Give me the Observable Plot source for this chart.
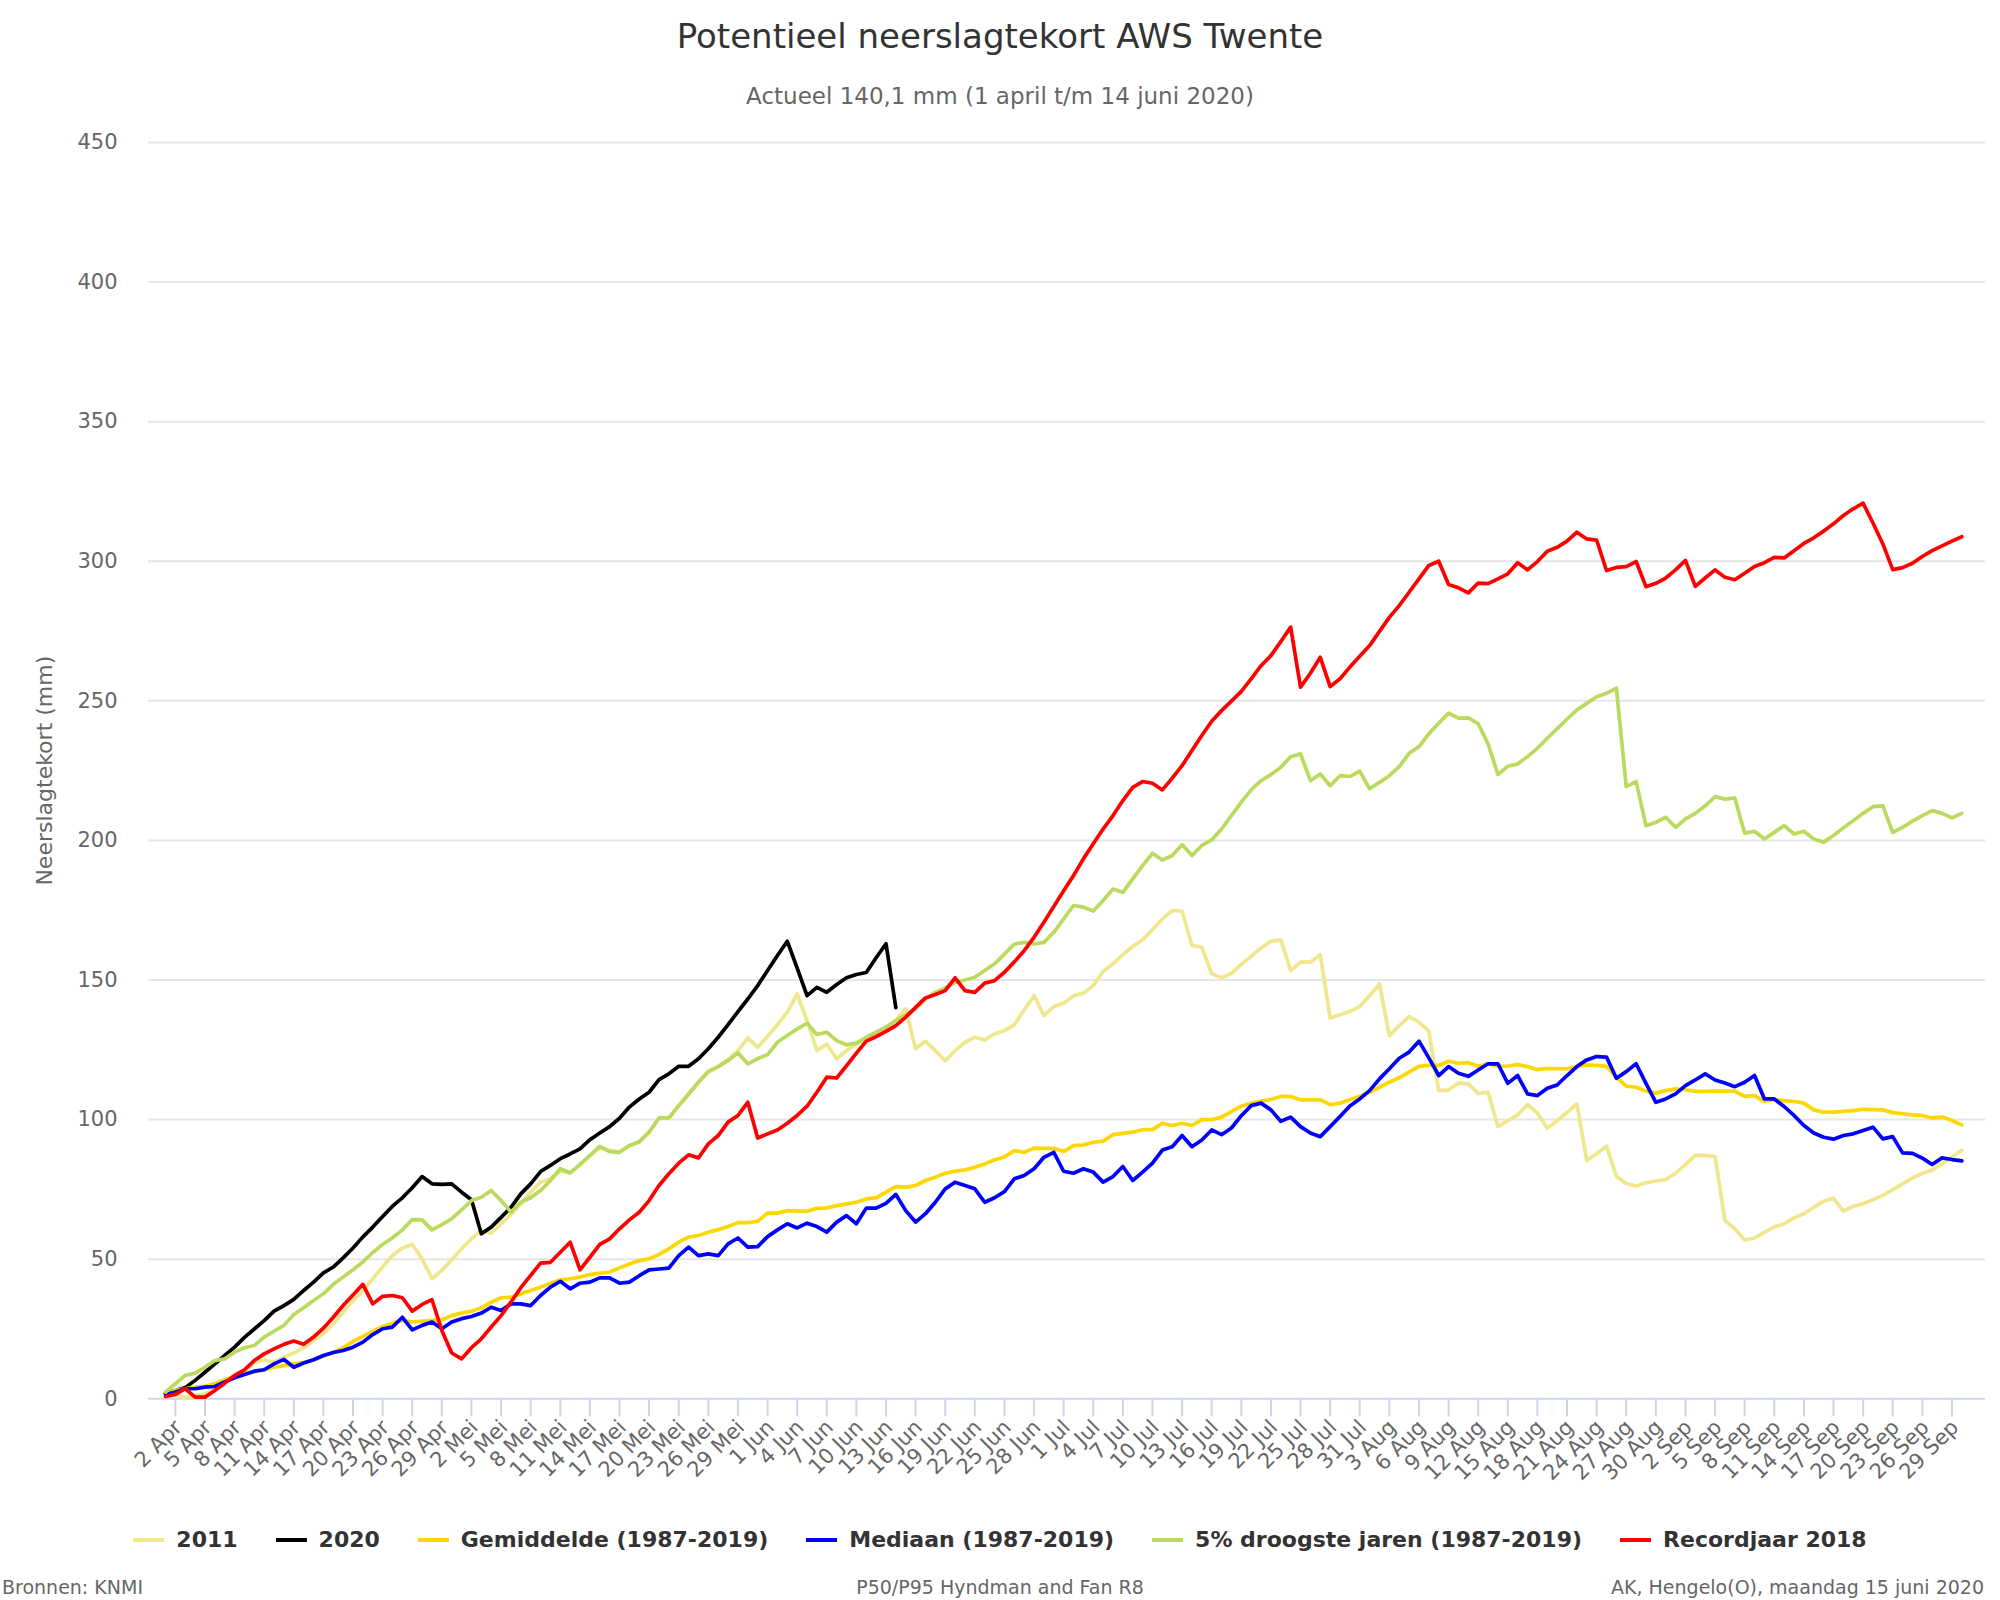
<!DOCTYPE html>
<html>
<head>
<meta charset="utf-8">
<script src="https://cdn.jsdelivr.net/npm/d3@7"></script>
<script src="https://cdn.jsdelivr.net/npm/@observablehq/plot@0.6"></script>
<style>
  body { margin: 0; background: #fff; font-family: "DejaVu Sans", sans-serif; }
  #wrap { position: relative; width: 2000px; height: 1600px; overflow: hidden; background: #fff; }
  #title { position: absolute; top: 14px; left: 0; width: 2000px; text-align: center; font-size: 34px; line-height: 44px; color: #333333; }
  #subtitle { position: absolute; top: 81px; left: 0; width: 2000px; text-align: center; font-size: 23px; line-height: 30px; color: #666666; }
  #chart { position: absolute; top: 120px; left: 0; }
  #legend { position: absolute; top: 1524px; left: 0; width: 2000px; display: flex; justify-content: center; gap: 38px; font-weight: bold; font-size: 22px; line-height: 32px; color: #333333; }
  .item { display: flex; align-items: center; white-space: nowrap; }
  .sym { width: 31px; height: 4px; margin-right: 12px; }
  .foot { position: absolute; top: 1574px; font-size: 19px; line-height: 26px; color: #666666; white-space: nowrap; }
</style>
</head>
<body>
<div id="wrap">
  <div id="title">Potentieel neerslagtekort AWS Twente</div>
  <div id="subtitle">Actueel 140,1 mm (1 april t/m 14 juni 2020)</div>
  <div id="chart"></div>
  <div id="legend"></div>
  <div class="foot" style="left:2px;">Bronnen: KNMI</div>
  <div class="foot" style="left:0;width:2000px;text-align:center;">P50/P95 Hyndman and Fan R8</div>
  <div class="foot" style="right:16px;">AK, Hengelo(O), maandag 15 juni 2020</div>
</div>
<script>
// ---- Data (mm potential precipitation deficit, one value per day starting 1 April) ----
const tickLabels = [
  "2 Apr","5 Apr","8 Apr","11 Apr","14 Apr","17 Apr","20 Apr","23 Apr","26 Apr","29 Apr",
  "2 Mei","5 Mei","8 Mei","11 Mei","14 Mei","17 Mei","20 Mei","23 Mei","26 Mei","29 Mei",
  "1 Jun","4 Jun","7 Jun","10 Jun","13 Jun","16 Jun","19 Jun","22 Jun","25 Jun","28 Jun",
  "1 Jul","4 Jul","7 Jul","10 Jul","13 Jul","16 Jul","19 Jul","22 Jul","25 Jul","28 Jul","31 Jul",
  "3 Aug","6 Aug","9 Aug","12 Aug","15 Aug","18 Aug","21 Aug","24 Aug","27 Aug","30 Aug",
  "2 Sep","5 Sep","8 Sep","11 Sep","14 Sep","17 Sep","20 Sep","23 Sep","26 Sep","29 Sep"
];
const yTicks = [0, 50, 100, 150, 200, 250, 300, 350, 400, 450];

const s2011 = [
  1.8,1.5,0.5,1.2,1.8,3.6,6.0,7.8,9.6,13.1,
  14.0,13.1,14.9,16.4,18.3,20.9,23.3,26.9,31.0,35.0,
  38.8,43.0,47.2,51.3,54.0,55.3,50.1,43.0,46.0,49.8,
  53.7,57.3,60.3,59.3,62.7,66.0,69.8,74.0,77.6,78.8,
  81.5,81.0,84.0,87.0,90.0,89.0,88.5,90.5,92.0,95.5,
  100.5,100.5,105.0,109.0,113.5,117.0,119.0,121.5,124.7,129.3,
  125.9,129.8,134.0,138.5,145.0,135.5,124.7,127.1,121.8,124.7,
  127.1,128.9,130.9,133.1,135.5,139.7,125.4,128.1,124.7,121.1,
  124.7,127.7,129.5,128.5,130.7,131.9,134.0,139.3,144.4,137.3,
  140.5,141.7,144.4,145.3,148.0,153.1,155.8,159.1,162.0,164.4,
  168.0,171.9,174.9,174.7,162.4,161.8,152.2,150.8,152.4,155.6,
  158.5,161.5,163.9,164.4,153.4,156.4,156.4,159.1,136.4,137.6,
  138.8,140.5,144.4,148.6,130.1,133.7,136.9,134.9,131.7,110.4,
  110.6,113.1,112.8,109.4,109.8,97.5,99.6,101.7,105.4,102.4,
  96.9,99.6,102.6,105.6,85.4,87.8,90.5,79.7,77.1,76.2,
  77.4,78.0,78.5,80.8,83.9,87.2,87.2,86.8,63.9,60.9,
  56.9,57.6,59.7,61.5,62.7,64.8,66.3,68.6,70.8,71.9,
  67.2,68.9,69.9,71.3,72.9,74.9,77.0,79.1,80.8,82.0,
  84.2,86.6,89.0
];
const s2020 = [
  1.8,3,4,6.6,9.5,12.5,15.5,18.5,22,25,
  28,31.4,33.4,35.6,38.8,41.8,45.1,47.2,50.5,54,
  58,61.5,65.3,69,72,75.6,79.6,77,76.8,77,
  74,71.3,59.1,61.5,65,68.6,73.4,77,81.4,83.6,
  86,87.7,89.5,92.8,95.2,97.5,100.5,104.5,107.4,109.8,
  114.3,116.4,119.1,119.1,121.8,125.4,129.5,134,138.7,143.2,
  148,153.4,158.8,163.9,154.3,144.4,147.4,145.6,148.4,150.8,
  152,152.7,158,163,140.1
];
const gemiddelde = [
  1.8,3,3.6,4.2,4.5,5.4,6.8,8,9,9.6,
  10.4,11.3,11.9,12.5,13.1,14,15.2,16.7,18.3,20.5,
  22.4,24.1,25.9,27.1,28.1,27.5,27.8,28.1,28.3,29.8,
  30.7,31.4,32.6,34.6,36.2,36.4,37.6,38.8,40,41.4,
  42.6,43,43.6,44.5,45,45.4,46.9,48.3,49.5,50.1,
  51.7,53.7,56.1,57.9,58.5,59.7,60.6,61.7,63.1,63.1,
  63.6,66.5,66.5,67.4,67.2,67.2,68.2,68.4,69.2,69.8,
  70.4,71.6,72,74,76,75.8,76.4,78.2,79.4,80.8,
  81.5,82,82.9,84.1,85.6,86.6,88.9,88.3,89.8,89.7,
  89.7,88.6,90.7,90.9,91.9,92.3,94.6,95.1,95.5,96.4,
  96.4,98.7,97.9,98.7,97.9,100,100,100.9,102.9,104.8,
  105.9,106.6,107.2,108.3,108.3,107.1,107.1,107.1,105.4,105.9,
  107.1,108.4,109.8,111.6,113.4,115,117,119.1,119.4,119.4,
  120.9,120.2,120.4,119.1,120,119.1,119.2,119.7,119,117.9,
  118.3,118.3,118.2,119,119.6,119.4,119.1,115.2,112,111.6,
  110.2,109.5,110.4,111,110.7,110.1,110.1,110.2,110.2,110.2,
  108.3,108.6,106.5,107.1,106.8,106.5,105.9,103.5,102.7,102.7,
  103,103.2,103.7,103.6,103.5,102.5,102.1,101.7,101.5,100.6,
  100.9,99.7,98.1
];
const mediaan = [
  1.6,2.4,3.6,3.6,4.2,4.4,6,7.5,8.7,9.9,
  10.4,12.5,14.1,11.3,12.8,14,15.5,16.6,17.3,18.5,
  20.3,23,25.1,25.7,29.2,24.7,26.3,27.5,25.1,27.5,
  28.7,29.5,30.7,32.8,31.6,34,34,33.4,37,40,
  42.1,39.4,41.4,41.8,43.3,43.3,41.4,41.8,44.1,46.2,
  46.5,46.8,51.3,54.3,51.3,51.9,51.3,55.5,57.6,54.3,
  54.5,58.1,60.5,62.7,61.2,62.9,61.7,59.7,63.3,65.6,
  62.7,68.3,68.3,70,73.2,67.4,63.3,66.3,70.4,75.2,
  77.6,76.4,75.2,70.4,72,74.2,78.8,80,82.4,86.5,
  88.3,81.5,80.8,82.4,81.2,77.6,79.6,83.2,78.2,81.2,
  84.4,89.1,90.3,94.3,90.3,92.7,96.3,94.6,97,101.4,
  105,105.9,103.5,99.4,100.9,97.5,95.2,93.9,97.5,101.1,
  104.9,107.4,110.4,114.6,118.2,122,124.2,128.1,122.1,115.8,
  119,116.6,115.5,117.8,120,120,113,115.8,109.2,108.6,
  111.2,112.4,115.8,119,121.4,122.6,122.4,114.8,117.2,120,
  113,106.2,107.4,109.2,112.2,114.2,116.4,114.2,113.1,111.8,
  113.4,115.8,107.4,107.4,104.7,101.5,97.9,95.2,93.7,93,
  94.3,94.9,96.1,97.3,93.1,93.9,88.1,87.9,86.2,83.9,
  86.3,85.7,85.2
];
const droogste5 = [
  2.4,5.4,8.4,9.2,11.3,13.7,14.3,16.7,18.3,19.1,
  22.1,24.2,26.3,30.2,32.6,35.2,37.6,41,43.6,46.2,
  49,52.4,55.3,57.7,60.5,64.2,64.1,60.5,62.4,64.5,
  67.7,71,72.2,74.6,71,66.9,70.4,72,74.6,78.2,
  82.4,80.9,83.9,87.2,90.4,88.5,88.3,90.7,92.1,95.5,
  100.6,100.6,105,109.2,113.4,117.3,119,121.2,123.9,120,
  121.8,123.3,127.7,130.1,132.5,134.5,130.5,131.3,128.3,126.8,
  127.4,129.5,131.3,133.1,135.5,137.5,139.7,143.3,145.6,147.2,
  149.2,150,151,153.4,155.8,159.3,162.9,163.5,162.9,163.5,
  167.1,171.9,176.7,176.1,174.7,178.5,182.6,181.4,186.2,191,
  195.4,193,194.6,198.5,194.6,198.2,200.2,204.1,208.9,213.7,
  218.1,221.4,223.6,226.2,230,231,221.4,223.8,219.6,223.2,
  222.9,224.8,218.5,220.8,223.2,226.4,231.2,233.6,238.2,242,
  245.6,243.8,243.9,241.8,234.6,223.6,226.6,227.4,230,233,
  236.6,240,243.5,246.7,249.1,251.5,252.7,254.6,219.3,221.1,
  205.3,206.5,208.3,204.7,207.7,209.7,212.4,215.7,214.8,215.2,
  202.6,203.3,200.5,202.9,205.3,202.3,203.3,200.5,199.4,201.8,
  204.5,207.1,209.7,212.1,212.4,202.9,204.7,206.9,208.9,210.7,
  209.7,208.1,209.7
];
const record2018 = [
  0.8,1.6,3.6,0.6,0.6,3,5.6,8.4,10.4,13.7,
  16.1,17.9,19.5,20.7,19.5,22.1,25.3,29.2,33.4,37.2,
  41,34,36.7,37,36.2,31.4,33.8,35.5,24.5,16.4,
  14.3,18.3,21.5,25.7,29.8,34.6,39.8,44.2,48.6,48.9,
  52.5,56.1,46.2,50.7,55.3,57.3,60.9,64.1,66.8,71,
  76.4,80.6,84.4,87.4,86.3,91.3,94.3,99.1,101.5,106.2,
  93.4,94.9,96.3,98.7,101.5,104.8,109.8,115.2,114.9,119.3,
  123.8,128.1,129.7,131.6,133.7,136.7,140.2,143.6,144.8,146.2,
  150.8,146.2,145.6,148.9,149.8,152.8,156.5,160.5,165.3,170.7,
  176.3,182,187.4,193.4,198.8,204.1,208.9,214.3,219,221.1,
  220.5,218.1,222.3,226.8,232.2,237.6,242.7,246.5,249.9,253.4,
  257.9,262.6,266.2,271.2,276.4,254.9,259.9,265.6,255.1,257.9,
  262.1,266,269.8,274.9,279.9,284.1,288.9,293.7,298.5,300,
  291.7,290.5,288.7,292.2,292,293.7,295.5,299.5,296.9,299.9,
  303.6,305,307.2,310.4,308,307.6,296.7,297.8,298.1,299.9,
  290.9,292.1,294,296.9,300.3,291,294,296.9,294.3,293.4,
  295.7,298.1,299.5,301.4,301.2,303.8,306.4,308.4,310.8,313.4,
  316.4,318.8,320.8,313.7,306.2,297,297.7,299.3,301.7,303.8,
  305.5,307.2,308.8
];

const seriesNames = ["2011", "2020", "Gemiddelde (1987-2019)", "Mediaan (1987-2019)", "5% droogste jaren (1987-2019)", "Recordjaar 2018"];
const seriesValues = [s2011, s2020, gemiddelde, mediaan, droogste5, record2018];
const seriesColors = ["#F0E68C", "#000000", "#FFD700", "#0000FF", "#B9DA5C", "#FF0000"];

// ---- Build chart ----
const rows = seriesValues.map((vals, k) => vals.map((v, i) => ({day: i, value: v, series: seriesNames[k]})));
const tickDays = tickLabels.map((_, i) => 1 + 3 * i);
const labelOf = new Map(tickDays.map((d, i) => [d, tickLabels[i]]));

const W = 2000, H = 1380;
const chart = Plot.plot({
  width: W,
  height: H,
  marginLeft: 148,
  marginRight: 15,
  marginTop: 22,
  marginBottom: H - 1278.3,
  style: {fontFamily: "DejaVu Sans, sans-serif", fontSize: "20px", background: "#fff", overflow: "visible"},
  x: {type: "linear", domain: [-1.722, 184.4]},
  y: {type: "linear", domain: [0, 450]},
  marks: [
    Plot.gridY(yTicks.filter(v => v > 0), {stroke: "#e6e6e6", strokeOpacity: 1, strokeWidth: 2}),
    Plot.axisY(yTicks, {tickSize: 0, tickPadding: 31, fill: "#666666", fontSize: 21, label: null}),
    Plot.text(["Neerslagtekort (mm)"], {frameAnchor: "left", dx: -104, rotate: -90, textAnchor: "middle", lineAnchor: "middle", fill: "#666666", fontSize: 22}),
    Plot.axisX(tickDays, {tickSize: 18, stroke: "#ccd6eb", strokeWidth: 2, tickFormat: () => "", label: null}),
    Plot.text(tickDays, {x: d => d, text: d => labelOf.get(d), frameAnchor: "bottom", dx: 3, dy: 25, rotate: -45, textAnchor: "end", lineAnchor: "middle", fill: "#666666", fontSize: 21}),
    Plot.ruleY([0], {stroke: "#ccd6eb", strokeWidth: 2}),
    ...rows.map((r, k) => Plot.line(r, {x: "day", y: "value", stroke: seriesColors[k], strokeWidth: 3.7, strokeLinejoin: "round", strokeLinecap: "round"}))
  ]
});
document.getElementById("chart").appendChild(chart);

// ---- Legend ----
const legend = document.getElementById("legend");
seriesNames.forEach((name, k) => {
  const item = document.createElement("div");
  item.className = "item";
  const sym = document.createElement("span");
  sym.className = "sym";
  sym.style.background = seriesColors[k];
  const txt = document.createElement("span");
  txt.textContent = name;
  item.appendChild(sym);
  item.appendChild(txt);
  legend.appendChild(item);
});
</script>
</body>
</html>
